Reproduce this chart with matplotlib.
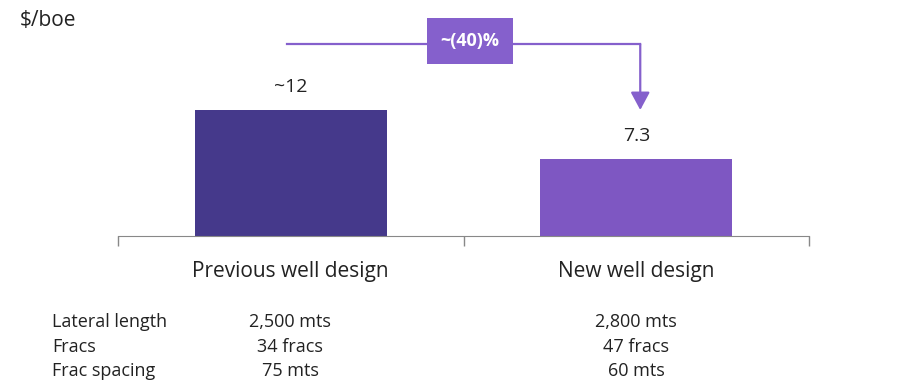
import matplotlib.pyplot as plt
from matplotlib.patches import FancyArrowPatch

plt.rcParams['font.family'] = ['Liberation Sans Narrow', 'Open Sans', 'DejaVu Sans']

categories = ['Previous well design', 'New well design']
costs = [12, 7.3]
cost_labels = ['~12', '7.3']
change_label = '~(40)%'
row_names = ['Lateral length', 'Fracs', 'Frac spacing']
prev_specs = ['2,500 mts', '34 fracs', '75 mts']
new_specs = ['2,800 mts', '47 fracs', '60 mts']

bar_colors = ['#45398b', '#7e57c2']
accent = '#8560cc'
text_color = '#222222'

W, H = 907, 383
fig = plt.figure(figsize=(W / 100, H / 100), dpi=100)
ax = fig.add_axes([118 / W, 1 - 236 / H, (809 - 118) / W, (236 - 26) / H])

x = list(range(len(categories)))
ax.bar(x, costs, width=0.557, color=bar_colors)
ax.set_xlim(-0.5, len(categories) - 0.5)
ax.set_ylim(0, 20)

for xi, v, lab in zip(x, costs, cost_labels):
    ax.annotate(lab, (xi, v), xytext=(0, 23), textcoords='offset pixels',
                ha='center', va='center', fontsize=14, color=text_color)

for s in ['top', 'right', 'left']:
    ax.spines[s].set_visible(False)
ax.spines['bottom'].set_color('#888888')
ax.set_yticks([])
ax.set_xticks([i - 0.5 for i in range(len(categories) + 1)])
ax.set_xticklabels([])
ax.tick_params(axis='x', length=7, width=1, color='#888888', direction='out')

for xi, c in zip(x, categories):
    ax.annotate(c, (xi, 0), xytext=(0, -35), textcoords='offset pixels',
                ha='center', va='center', fontsize=15, color=text_color)

fig.text(20 / W, 1 - 21 / H, '$/boe', fontsize=15, color=text_color,
         ha='left', va='center')

# bracket arrow from the old cost to the new one
y_line = 1 - 44 / H
x0 = 287 / W
x1 = ax.transData.transform((1, 0))[0] / W + 4 / W
fig.add_artist(plt.Line2D([x0, x1], [y_line, y_line], color=accent, lw=1.6,
                          transform=fig.transFigure))
arrow = FancyArrowPatch((x1, y_line), (x1, 1 - 110 / H), transform=fig.transFigure,
                        arrowstyle='-|>,head_length=10.8,head_width=5.8', color=accent,
                        lw=1.6, shrinkA=0, shrinkB=0, mutation_scale=1)
fig.add_artist(arrow)
fig.text(470 / W, 1 - 41 / H, change_label, ha='center', va='center', fontsize=13,
         fontweight='bold', color='white',
         bbox=dict(boxstyle='square,pad=0.75', fc=accent, ec='none'))

# well design specs table
row_y = [322, 347, 371]
for ry, name, p, n in zip(row_y, row_names, prev_specs, new_specs):
    fy = 1 - ry / H
    fig.text(52 / W, fy, name, ha='left', va='center', fontsize=13, color=text_color)
    fig.text(290 / W, fy, p, ha='center', va='center', fontsize=13, color=text_color)
    fig.text(636 / W, fy, n, ha='center', va='center', fontsize=13, color=text_color)

fig.savefig('out.png', dpi=100)
